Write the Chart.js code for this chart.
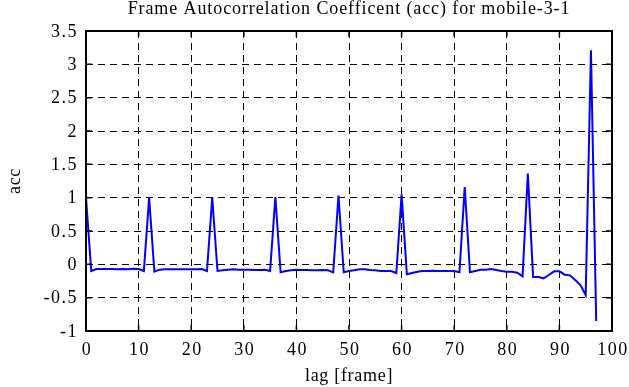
<!DOCTYPE html>
<html>
<head>
<meta charset="utf-8">
<script src="https://cdn.jsdelivr.net/npm/chart.js@4/dist/chart.umd.min.js"></script>
<style>
  html, body { margin: 0; padding: 0; background: #fff; }
  #wrap { width: 629px; height: 387px; }
</style>
</head>
<body>
<div id="wrap"><canvas id="accChart" width="629" height="387"></canvas></div>
<script>
// acc values, one per lag (frame)
const lags = [];
for (let i = 0; i <= 97; i++) lags.push(i);

const accValues = [
  1.0, -0.1, -0.07, -0.07, -0.07, -0.07, -0.075, -0.07, -0.075, -0.065,
  -0.07, -0.1, 1.0, -0.11, -0.08, -0.075, -0.075, -0.075, -0.075, -0.075,
  -0.075, -0.075, -0.07, -0.1, 1.0, -0.1, -0.09, -0.08, -0.075, -0.08,
  -0.08, -0.08, -0.085, -0.085, -0.08, -0.1, 1.01, -0.12, -0.1, -0.09,
  -0.08, -0.085, -0.085, -0.09, -0.09, -0.085, -0.09, -0.12, 1.03, -0.12,
  -0.1, -0.09, -0.075, -0.075, -0.085, -0.09, -0.1, -0.1, -0.1, -0.13,
  1.05, -0.15, -0.13, -0.11, -0.1, -0.1, -0.095, -0.1, -0.1, -0.1,
  -0.1, -0.12, 1.16, -0.12, -0.1, -0.08, -0.08, -0.07, -0.085, -0.1,
  -0.11, -0.11, -0.125, -0.18, 1.36, -0.19, -0.19, -0.21, -0.16, -0.105,
  -0.105, -0.155, -0.165, -0.235, -0.31, -0.46, 3.21, -0.85
];

const xTicks = [0, 10, 20, 30, 40, 50, 60, 70, 80, 90, 100];
const yTicks = [-1, -0.5, 0, 0.5, 1, 1.5, 2, 2.5, 3, 3.5];

const titleText = "Frame Autocorrelation Coefficent (acc) for mobile-3-1";
const xLabel = "lag [frame]";
const yLabel = "acc";
const serif = "'Liberation Serif', 'DejaVu Serif', serif";

// gnuplot-like frame, inward tick marks, tick labels, title and axis labels
const framePlugin = {
  id: "frame",
  afterDraw(chart) {
    const { ctx, chartArea: a, scales } = chart;
    ctx.save();
    ctx.strokeStyle = "#000";
    ctx.lineWidth = 1.5;
    ctx.beginPath();
    xTicks.forEach(v => {
      const x = scales.x.getPixelForValue(v);
      ctx.moveTo(x, a.bottom); ctx.lineTo(x, a.bottom - 6);
      ctx.moveTo(x, a.top); ctx.lineTo(x, a.top + 6);
    });
    yTicks.forEach(v => {
      const y = scales.y.getPixelForValue(v);
      ctx.moveTo(a.left, y); ctx.lineTo(a.left + 6, y);
      ctx.moveTo(a.right, y); ctx.lineTo(a.right - 6, y);
    });
    ctx.stroke();
    ctx.lineWidth = 2;
    ctx.strokeRect(a.left, a.top, a.right - a.left, a.bottom - a.top);

    ctx.fillStyle = "#000";
    ctx.font = "18px " + serif;

    // tick labels
    ctx.letterSpacing = "1.5px";
    ctx.textBaseline = "middle";
    ctx.textAlign = "right";
    yTicks.forEach(v => {
      ctx.fillText(String(v), a.left - 8, scales.y.getPixelForValue(v) + 1);
    });
    ctx.textAlign = "center";
    xTicks.forEach(v => {
      ctx.fillText(String(v), scales.x.getPixelForValue(v) + 1, 350);
    });

    const cx = (a.left + a.right) / 2;
    const cy = (a.top + a.bottom) / 2;

    ctx.letterSpacing = "0.9px";
    ctx.textBaseline = "alphabetic";
    ctx.fillText(titleText, cx, 14);

    ctx.letterSpacing = "0.7px";
    ctx.textBaseline = "middle";
    ctx.fillText(xLabel, cx, 376);

    ctx.translate(15, cy);
    ctx.rotate(-Math.PI / 2);
    ctx.fillText(yLabel, 0, 0);
    ctx.restore();
  }
};

new Chart(document.getElementById("accChart"), {
  type: "line",
  data: {
    labels: lags,
    datasets: [{
      data: lags.map((l, i) => ({ x: l, y: accValues[i] })),
      borderColor: "#0000ff",
      borderWidth: 2,
      pointRadius: 0,
      tension: 0,
      fill: false
    }]
  },
  options: {
    responsive: false,
    animation: false,
    layout: { padding: { top: 31, right: 17, left: 0, bottom: 0 } },
    plugins: { legend: { display: false }, tooltip: { enabled: false } },
    scales: {
      x: {
        type: "linear",
        min: 0,
        max: 100,
        afterBuildTicks: s => { s.ticks = xTicks.map(v => ({ value: v })); },
        afterFit: s => { s.height = 56; },
        ticks: { display: false },
        grid: { color: "#000", lineWidth: 1, drawTicks: false },
        border: { display: false, dash: [7, 5] }
      },
      y: {
        min: -1,
        max: 3.5,
        afterBuildTicks: s => { s.ticks = yTicks.map(v => ({ value: v })); },
        afterFit: s => { s.width = 86; },
        ticks: { display: false },
        grid: { color: "#000", lineWidth: 1, drawTicks: false },
        border: { display: false, dash: [7, 5] }
      }
    }
  },
  plugins: [framePlugin]
});
</script>
</body>
</html>
